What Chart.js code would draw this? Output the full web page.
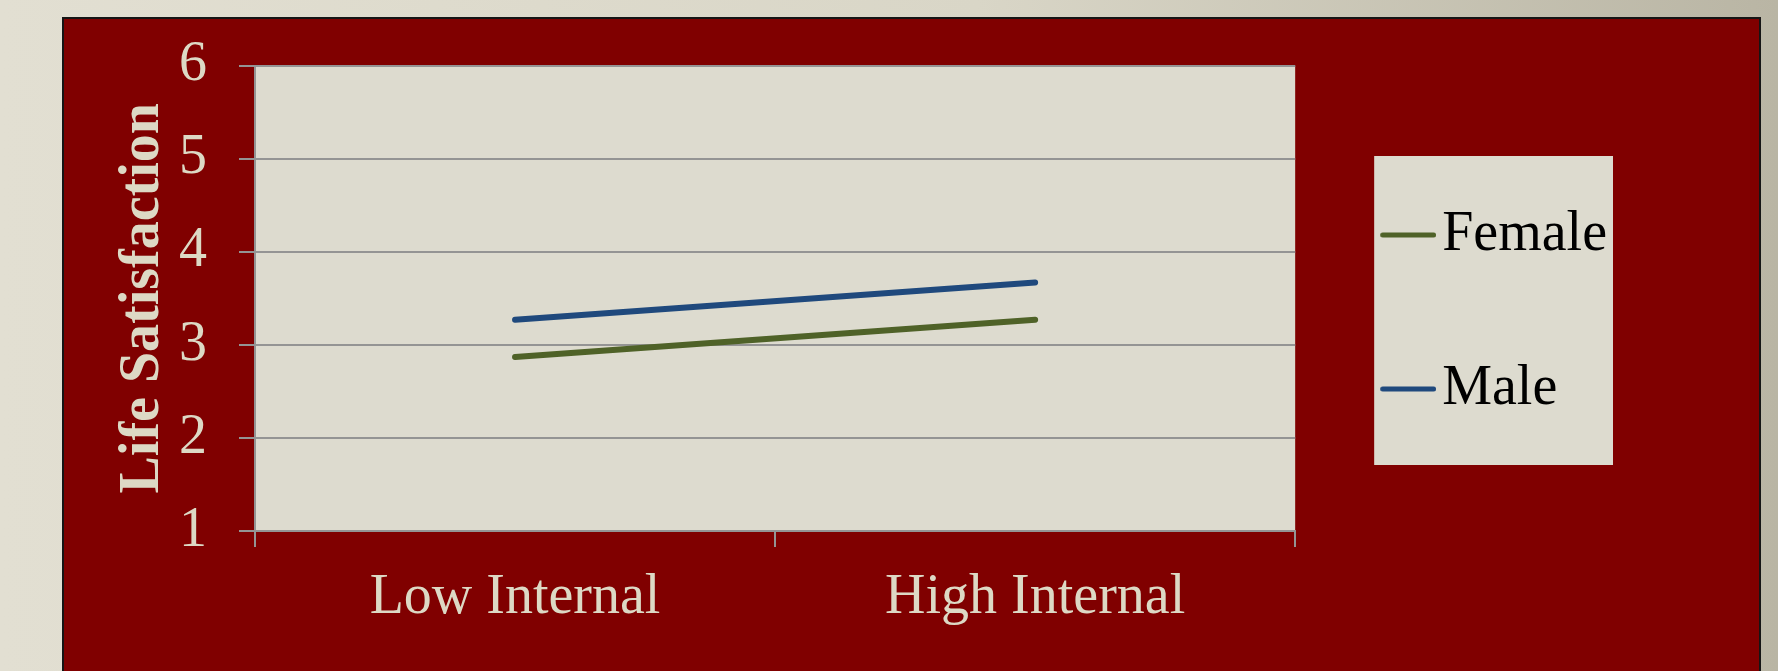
<!DOCTYPE html>
<html>
<head>
<meta charset="utf-8">
<script src="https://cdn.jsdelivr.net/npm/chart.js@4.4.1/dist/chart.umd.min.js"></script>
<style>
  html, body {
    margin: 0; padding: 0; width: 1778px; height: 671px; overflow: hidden;
    background: linear-gradient(to right, #e2dfd2 0%, #d9d6c7 55%, #b9b5a4 100%);
  }
  #panel {
    position: absolute; left: 62px; top: 17px; width: 1699px; height: 720px;
    box-sizing: border-box; border: 2px solid #151515; background: #800000;
  }
  #wrap { position: absolute; left: 0; top: 0; width: 1778px; height: 671px; }
</style>
</head>
<body>
<div id="panel"></div>
<div id="wrap"><canvas id="lifeChart"></canvas></div>
<script>
// datos
const categories = ['Low Internal', 'High Internal'];
const femaleValues = [2.87, 3.27];
const maleValues = [3.27, 3.67];
const seriesNames = ['Female', 'Male'];
const yTickValues = [1, 2, 3, 4, 5, 6];

const cream = '#ddd9c5';
const gridGray = '#949494';
const serif = "'Liberation Serif', 'Times New Roman', serif";
const femaleColor = '#4f6228';
const maleColor = '#1f497d';

// muestra de linea para la leyenda (linea corrida a la derecha del centro)
function legendSwatch(color) {
  const c = document.createElement('canvas');
  c.width = 65;
  c.height = 8;
  const g = c.getContext('2d');
  g.strokeStyle = color;
  g.lineWidth = 5;
  g.lineCap = 'round';
  g.beginPath();
  g.moveTo(11.5, 4);
  g.lineTo(62.5, 4);
  g.stroke();
  return c;
}

// fondo del area de trazado y del cuadro de leyenda
const panelBackgrounds = {
  id: 'panelBackgrounds',
  beforeDraw(chart) {
    const { ctx, chartArea: a, legend } = chart;
    ctx.save();
    ctx.fillStyle = '#dddbcf';
    ctx.fillRect(a.left, a.top, a.right - a.left, a.bottom - a.top);
    const boxes = legend.legendHitBoxes;
    if (boxes && boxes.length) {
      const first = boxes[0];
      const last = boxes[boxes.length - 1];
      const w = Math.max(...boxes.map(b => b.width));
      const top = first.top - 51;
      ctx.fillRect(first.left - 19, top, w + 25, last.top + last.height + 48 - top);
    }
    ctx.restore();
  }
};

const ctx = document.getElementById('lifeChart').getContext('2d');

new Chart(ctx, {
  type: 'line',
  data: {
    labels: categories,
    datasets: [
      {
        label: seriesNames[0],
        data: femaleValues,
        borderColor: femaleColor,
        backgroundColor: femaleColor,
        borderWidth: 6,
        borderCapStyle: 'round',
        pointRadius: 0,
        pointHoverRadius: 0,
        pointStyle: legendSwatch(femaleColor),
        tension: 0
      },
      {
        label: seriesNames[1],
        data: maleValues,
        borderColor: maleColor,
        backgroundColor: maleColor,
        borderWidth: 6,
        borderCapStyle: 'round',
        pointRadius: 0,
        pointHoverRadius: 0,
        pointStyle: legendSwatch(maleColor),
        tension: 0
      }
    ]
  },
  options: {
    responsive: true,
    maintainAspectRatio: false,
    animation: false,
    layout: { padding: { left: 63, top: 63, right: 161, bottom: 10 } },
    plugins: {
      tooltip: { enabled: false },
      legend: {
        position: 'right',
        align: 'start',
        title: { display: true, text: '', font: { size: 30 }, padding: 5 },
        labels: {
          usePointStyle: true,
          pointStyleWidth: 21,
          padding: 98,
          color: '#000000',
          font: { family: serif, size: 56 }
        }
      }
    },
    scales: {
      x: {
        offset: true,
        grid: {
          offset: true,
          drawOnChartArea: false,
          drawTicks: true,
          tickLength: 16,
          color: gridGray,
          lineWidth: 2
        },
        border: { display: true, color: gridGray, width: 2 },
        ticks: {
          color: cream,
          font: { family: serif, size: 56 },
          padding: 18,
          maxRotation: 0,
          autoSkip: false
        },
        afterFit: s => { s.height = 130; }
      },
      y: {
        min: 1,
        max: 6,
        afterBuildTicks: s => { s.ticks = yTickValues.map(v => ({ value: v })); },
        grid: { color: gridGray, lineWidth: 2, tickLength: 16 },
        border: { color: gridGray, width: 2 },
        ticks: {
          color: cream,
          font: { family: serif, size: 56 },
          padding: 32
        },
        title: {
          display: true,
          text: 'Life Satisfaction',
          color: cream,
          font: { family: serif, size: 56, weight: 'bold' },
          padding: { top: 47, bottom: 0 }
        },
        afterFit: s => { s.width = 192; }
      }
    }
  },
  plugins: [panelBackgrounds]
});
</script>
</body>
</html>
